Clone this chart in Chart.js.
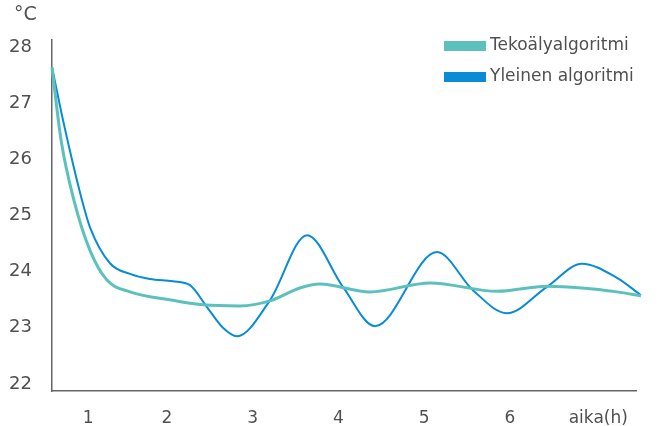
<!DOCTYPE html>
<html>
<head>
<meta charset="utf-8">
<script src="https://cdn.jsdelivr.net/npm/chart.js@4/dist/chart.umd.min.js"></script>
<style>
  html, body { margin: 0; padding: 0; background: #fff; }
  #wrap { width: 661px; height: 426px; position: relative; }
</style>
</head>
<body>
<div id="wrap"><canvas id="grafico"></canvas></div>
<script>
// aika (h) ja lämpötila (°C), luettu kuvasta
const tekoalyAika = [0.659, 0.765, 0.915, 1.102, 1.30, 1.569, 2.07, 2.42, 2.85, 3.20, 3.55, 3.78, 4.37, 5.07, 5.85, 6.43, 6.84, 7.25, 7.528];
const tekoalyLampo = [27.64, 26.34, 25.27, 24.38, 23.85, 23.64, 23.49, 23.41, 23.39, 23.48, 23.71, 23.78, 23.64, 23.80, 23.65, 23.74, 23.71, 23.64, 23.57];

const yleinenAika = [0.659, 0.80, 1.009, 1.102, 1.335, 1.569, 1.80, 2.07, 2.268, 2.466, 2.653, 2.816, 3.201, 3.633, 4.052, 4.426, 5.149, 5.568, 5.965, 6.431, 6.84, 7.248, 7.528];
const yleinenLampo = [27.64, 26.61, 25.27, 24.79, 24.15, 23.96, 23.87, 23.83, 23.76, 23.37, 23.0, 22.85, 23.49, 24.65, 23.73, 23.03, 24.35, 23.67, 23.26, 23.73, 24.14, 23.89, 23.58];

const xTickArvot = [1.08, 2, 3, 4, 5, 6, 7.03];
const xTickTekstit = ['1', '2', '3', '4', '5', '6', 'aika(h)'];
const yTickArvot = [22, 23, 24, 25, 26, 27, 28];

const sarjat = ['Tekoälyalgoritmi', 'Yleinen algoritmi'];
const varit = ['#5cc1bd', '#0a8bd6'];

const fontti = 'DejaVu Sans';
const harmaa = '#505050';

function pisteet(aika, arvot) {
    return aika.map((t, i) => ({ x: t, y: arvot[i] }));
}

// Oma selite ja yksikkö
const selitePlugin = {
    id: 'selite',
    afterDraw(chart) {
        const ctx = chart.ctx;
        ctx.save();
        ctx.fillStyle = harmaa;
        ctx.textBaseline = 'middle';
        ctx.textAlign = 'left';
        ctx.font = '19px "' + fontti + '"';
        ctx.fillText('°C', 14, 15);
        ctx.font = '17px "' + fontti + '"';
        sarjat.forEach((nimi, i) => {
            const y = 46 + i * 31;
            ctx.fillStyle = varit[i];
            ctx.fillRect(444, y - 5, 42, 10);
            ctx.fillStyle = harmaa;
            ctx.fillText(nimi, 490, y);
        });
        ctx.restore();
    }
};

const ctx = document.getElementById('grafico').getContext('2d');
new Chart(ctx, {
    type: 'line',
    data: {
        datasets: [
            {
                label: sarjat[0],
                data: pisteet(tekoalyAika, tekoalyLampo),
                borderColor: varit[0],
                borderWidth: 3,
                pointRadius: 0,
                cubicInterpolationMode: 'monotone',
                fill: false,
                clip: false
            },
            {
                label: sarjat[1],
                data: pisteet(yleinenAika, yleinenLampo),
                borderColor: varit[1],
                borderWidth: 2,
                pointRadius: 0,
                cubicInterpolationMode: 'monotone',
                fill: false,
                clip: false
            }
        ]
    },
    options: {
        responsive: true,
        maintainAspectRatio: false,
        animation: false,
        layout: { padding: { left: 0, right: 25, top: 40, bottom: 0 } },
        scales: {
            x: {
                type: 'linear',
                min: 0.659,
                max: 7.47,
                grid: { display: false },
                border: { display: true, color: '#666666', width: 1.5 },
                afterBuildTicks(axis) {
                    axis.ticks = xTickArvot.map(v => ({ value: v }));
                },
                afterFit(axis) { axis.height = 35; },
                ticks: {
                    color: harmaa,
                    padding: 9,
                    maxRotation: 0,
                    autoSkip: false,
                    font: { family: fontti, size: 17 },
                    callback: (v, i) => xTickTekstit[i]
                }
            },
            y: {
                min: 21.875,
                max: 28.125,
                grid: { display: false },
                border: { display: true, color: '#666666', width: 1.5 },
                afterBuildTicks(axis) {
                    axis.ticks = yTickArvot.map(v => ({ value: v }));
                },
                afterFit(axis) { axis.width = 52; },
                ticks: {
                    color: harmaa,
                    padding: 12,
                    font: { family: fontti, size: 18 }
                }
            }
        },
        plugins: {
            legend: { display: false },
            tooltip: { enabled: false }
        }
    },
    plugins: [selitePlugin]
});
</script>
</body>
</html>
